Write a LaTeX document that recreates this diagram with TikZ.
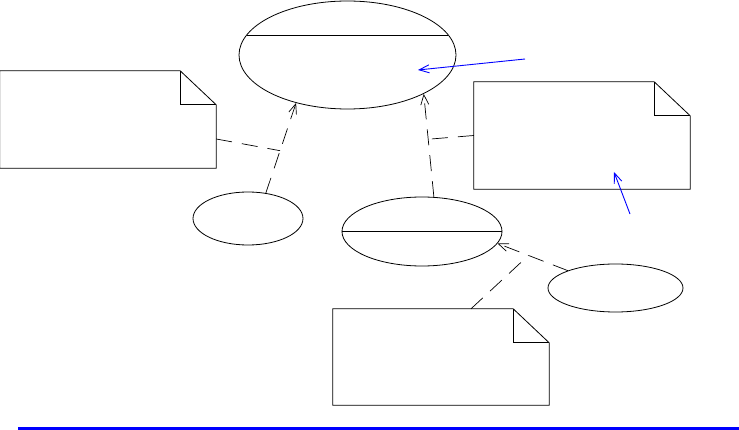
\documentclass[tikz,border=0pt]{standalone}
\usepackage{tikz}
\usetikzlibrary{arrows.meta,positioning,calc,shapes.geometric}

\begin{document}
\begin{tikzpicture}[
    x=1pt, y=-1pt,
    ell/.style={draw, ellipse, inner sep=0pt, line width=0.8pt},
    note/.style={inner sep=0pt, minimum width=216pt},
    dep/.style={dashed, dash pattern=on 16pt off 10pt, line width=0.7pt},
    arr/.style={-{Straight Barb[length=10pt,width=8pt]}},
    blu/.style={blue, line width=0.9pt}
  ]
  \useasboundingbox (0,0) rectangle (739,430);

  \node[ell, minimum width=217pt, minimum height=108pt] (topell) at (347.5,55) {};
  \node[ell, minimum width=110pt, minimum height=53pt] (leftell) at (248,218.5) {};
  \node[ell, minimum width=160pt, minimum height=69pt] (midell) at (422,231.5) {};
  \node[ell, minimum width=135pt, minimum height=48pt] (rightell) at (615.5,288) {};

  \node[note, minimum height=97pt] (lnote) at (108,119.5) {};
  \node[note, minimum height=107pt] (rnote) at (582,135.5) {};
  \node[note, minimum height=96pt] (bnote) at (441,357) {};

  % dog-eared notes
  \foreach \n in {lnote,rnote,bnote} {
    \draw[line width=0.8pt] (\n.north west) -- ($(\n.north east)+(-36,0)$)
      -- ($(\n.north east)+(0,34)$) -- (\n.south east) -- (\n.south west) -- cycle;
    \draw[line width=0.8pt] ($(\n.north east)+(-36,0)$) |- ($(\n.north east)+(0,34)$);
  }

  % compartment lines
  \draw[line width=0.8pt] ($(topell.center)+(-100.5,-20)$) -- ($(topell.center)+(100.5,-20)$);
  \draw[line width=0.8pt] (midell.west) -- (midell.east);

  % dependencies
  \draw[dep, arr] (leftell.55) -- (topell.223);
  \draw[dep, arr] (midell.71) -- (topell.333.6);
  \draw[dep, arr] (rightell.160.3) -- (midell.351.4);

  \coordinate (j1) at ($(leftell.55)!0.47!(topell.223)$);
  \coordinate (j2) at ($(midell.71)!0.56!(topell.333.6)$);
  \coordinate (j3) at ($(rightell.160.3)!0.56!(midell.351.4)$);

  \draw[dep] ($(lnote.north east)!0.7!(lnote.south east)$) -- (j1);
  \draw[dep] (rnote.west) -- (j2);
  \draw[dep] ($(bnote.north)+(30,0)$) -- (j3);

  % blue pointers
  \coordinate (b1s) at (525,59);
  \coordinate (b1e) at (418,70);
  \coordinate (b2s) at (630,214);
  \coordinate (b2e) at (614,172);
  \draw[blu, arr] (b1s) -- (b1e);
  \draw[blu, arr] (b2s) -- (b2e);

  \coordinate (bl) at (18,428.5);
  \coordinate (br) at (739,428.5);
  \draw[blue, line width=3pt] (bl) -- (br);
\end{tikzpicture}
\end{document}
